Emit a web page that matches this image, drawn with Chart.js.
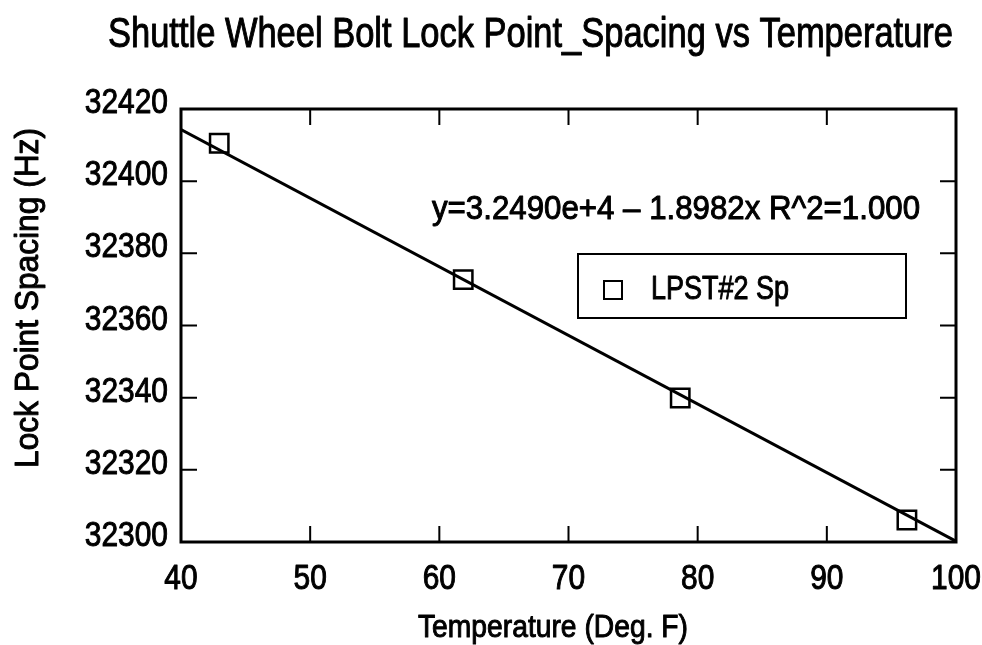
<!DOCTYPE html>
<html>
<head>
<meta charset="utf-8">
<script src="https://cdn.jsdelivr.net/npm/chart.js@4.4.0/dist/chart.umd.min.js"></script>
<style>
  html, body { margin: 0; padding: 0; background: #fff; }
</style>
</head>
<body>
<canvas id="chart" width="982" height="645"></canvas>
<script>
// data
const temps = [42.96, 61.85, 78.65, 96.2];
const spacing = [32410.5, 32372.7, 32339.9, 32306.1];

// regression line end points (as drawn)
const fitX = [40, 100];
const fitY = [32414.3, 32300.2];

const xTicks = [40, 50, 60, 70, 80, 90, 100];
const yTicks = [32300, 32320, 32340, 32360, 32380, 32400, 32420];

const chartTitle = 'Shuttle Wheel Bolt Lock Point_Spacing vs Temperature';
const xTitle = 'Temperature (Deg. F)';
const yTitle = 'Lock Point Spacing (Hz)';
const fitText = 'y=3.2490e+4 \u2013 1.8982x R^2=1.000';
const seriesName = 'LPST#2 Sp';

const FONT = "'Liberation Sans', 'DejaVu Sans', sans-serif";

// draw text with a given cap height; width either fixed or from a squeeze factor
function drawText(ctx, text, x, baseline, capH, opts) {
    opts = opts || {};
    ctx.save();
    ctx.font = '100px ' + FONT;
    const capRatio = ctx.measureText('H').actualBoundingBoxAscent / 100;
    const size = capH / capRatio;
    ctx.font = size + 'px ' + FONT;
    const w = ctx.measureText(text).width;
    const sx = opts.width ? opts.width / w : (opts.squeeze || 1);
    const drawnW = w * sx;
    ctx.translate(x, baseline);
    if (opts.rotate) ctx.rotate(-Math.PI / 2);
    let dx = 0;
    if (opts.align === 'center') dx = -drawnW / 2;
    if (opts.align === 'right') dx = -drawnW;
    ctx.translate(dx, 0);
    ctx.scale(sx, 1);
    ctx.fillStyle = '#000';
    ctx.strokeStyle = '#000';
    ctx.lineWidth = 1;
    ctx.lineJoin = 'round';
    ctx.textBaseline = 'alphabetic';
    ctx.textAlign = 'left';
    ctx.fillText(text, 0, 0);
    ctx.strokeText(text, 0, 0);
    ctx.restore();
}

const framePlugin = {
    id: 'frame',
    afterDatasetsDraw(chart) {
        const ctx = chart.ctx;
        const a = chart.chartArea;
        const xs = chart.scales.x, ys = chart.scales.y;
        ctx.save();
        ctx.strokeStyle = '#000';

        // inward ticks on all four sides
        ctx.lineWidth = 2;
        const tl = 16;
        xs.ticks.forEach(t => {
            const px = xs.getPixelForValue(t.value);
            ctx.beginPath();
            ctx.moveTo(px, a.bottom); ctx.lineTo(px, a.bottom - tl);
            ctx.moveTo(px, a.top); ctx.lineTo(px, a.top + tl);
            ctx.stroke();
        });
        ys.ticks.forEach(t => {
            const py = ys.getPixelForValue(t.value);
            ctx.beginPath();
            ctx.moveTo(a.left, py); ctx.lineTo(a.left + tl, py);
            ctx.moveTo(a.right, py); ctx.lineTo(a.right - tl, py);
            ctx.stroke();
        });

        // frame
        ctx.lineWidth = 3;
        ctx.strokeRect(a.left, a.top, a.right - a.left, a.bottom - a.top);

        // legend box
        ctx.lineWidth = 2;
        ctx.strokeRect(578, 254, 328, 64);
        ctx.strokeRect(604, 281, 18, 18);
        ctx.restore();

        // tick labels (narrow plotter font)
        const sq = 0.86;
        xs.ticks.forEach(t => {
            drawText(ctx, String(t.value), xs.getPixelForValue(t.value), 589, 24, { align: 'center', squeeze: sq });
        });
        ys.ticks.forEach(t => {
            drawText(ctx, String(t.value), a.left - 13, ys.getPixelForValue(t.value) + 4, 24, { align: 'right', squeeze: sq });
        });

        drawText(ctx, seriesName, 651, 299, 23, { width: 138 });
        drawText(ctx, fitText, 432, 219, 23, { width: 488 });
        drawText(ctx, chartTitle, 108, 47, 29, { width: 845 });
        drawText(ctx, xTitle, 418, 637, 22, { width: 270 });
        drawText(ctx, yTitle, 38, 468, 23, { width: 340, rotate: true });
    }
};

new Chart(document.getElementById('chart'), {
    type: 'scatter',
    data: {
        datasets: [{
            label: seriesName,
            data: temps.map((t, i) => ({ x: t, y: spacing[i] })),
            pointStyle: 'rect',
            pointRadius: 13,
            pointHoverRadius: 13,
            borderColor: '#000',
            borderWidth: 2.5,
            backgroundColor: 'rgba(0,0,0,0)',
            showLine: false
        }, {
            label: 'fit',
            data: fitX.map((x, i) => ({ x: x, y: fitY[i] })),
            showLine: true,
            pointRadius: 0,
            borderColor: '#000',
            borderWidth: 3,
            fill: false
        }]
    },
    options: {
        responsive: false,
        animation: false,
        layout: { autoPadding: false, padding: { left: 0, top: 109, right: 26, bottom: 0 } },
        plugins: {
            legend: { display: false },
            title: { display: false },
            tooltip: { enabled: false }
        },
        scales: {
            x: {
                type: 'linear',
                min: 40, max: 100,
                afterBuildTicks: s => { s.ticks = xTicks.map(v => ({ value: v })); },
                afterFit: s => { s.height = 103; },
                grid: { display: false, drawTicks: false },
                border: { display: false },
                ticks: { display: false }
            },
            y: {
                type: 'linear',
                min: 32300, max: 32420,
                afterBuildTicks: s => { s.ticks = yTicks.map(v => ({ value: v })); },
                afterFit: s => { s.width = 181; },
                grid: { display: false, drawTicks: false },
                border: { display: false },
                ticks: { display: false }
            }
        }
    },
    plugins: [framePlugin]
});
</script>
</body>
</html>
